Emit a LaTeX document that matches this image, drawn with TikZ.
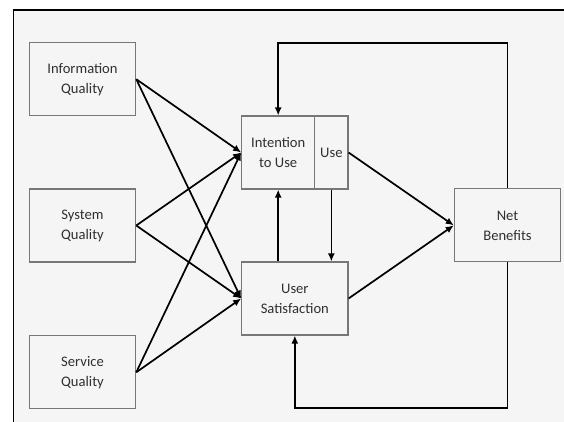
\documentclass[tikz,border=0pt]{standalone}
\usepackage{fontspec}
\setmainfont{Carlito}
\usetikzlibrary{arrows.meta}
\definecolor{bg}{HTML}{F5F5F5}
\definecolor{boxline}{HTML}{777777}
\definecolor{txt}{HTML}{303030}
\tikzset{
  box/.style={draw=boxline, line width=1.1pt, fill=bg, rectangle, inner sep=0pt,
    align=center, text=txt, font=\fontsize{14.6}{20}\selectfont},
  conn/.style={line width=1.7pt, black, line join=miter, -{Latex[length=8pt,width=7pt]}},
}
\begin{document}
\begin{tikzpicture}[x=1pt, y=-1pt]
\useasboundingbox (0,0) rectangle (564,422);
\fill[white] (0,0) rectangle (564,422);
\fill[bg] (13.3,10) rectangle (564,422);
\draw[line width=1.6pt, black] (13.3,422) -- (13.3,10) -- (564,10);

\node[box, minimum width=106.4pt, minimum height=73pt] (info) at (82.5,79.2) {Information\\Quality};
\node[box, minimum width=106.4pt, minimum height=73pt] (sys) at (82.5,225.5) {System\\Quality};
\node[box, minimum width=106.4pt, minimum height=73pt] (serv) at (82.5,372.3) {Service\\Quality};
\node[box, minimum width=73pt, minimum height=73pt] (intent) at (278.2,152.5) {Intention\\to Use};
\node[box, minimum width=33.3pt, minimum height=73pt] (use) at (331.35,152.5) {Use};
\node[box, minimum width=106.3pt, minimum height=73pt] (user) at (294.85,298.5) {User\\Satisfaction};
\node[box, minimum width=106.4pt, minimum height=73pt] (net) at (507.5,225.4) {Net\\Benefits};

\coordinate (topy) at (0,43.3);
\coordinate (boty) at (0,408.3);

\draw[conn] (info.east) -- (intent.west);
\draw[conn] (info.east) -- (user.west);
\draw[conn] (sys.east) -- (intent.west);
\draw[conn] (sys.east) -- (user.west);
\draw[conn] (serv.east) -- (intent.west);
\draw[conn] (serv.east) -- (user.west);

\draw[conn] (intent.south |- user.north) -- (intent.south);
\draw[conn] (use.south) -- (use.south |- user.north);

\draw[conn] (use.east) -- (net.west);
\draw[conn] (user.east) -- (net.west);

\draw[conn] (net.north) -- (net.north |- topy) -- (intent.north |- topy) -- (intent.north);
\draw[conn] (net.south) -- (net.south |- boty) -- (user.south |- boty) -- (user.south);
\end{tikzpicture}
\end{document}
